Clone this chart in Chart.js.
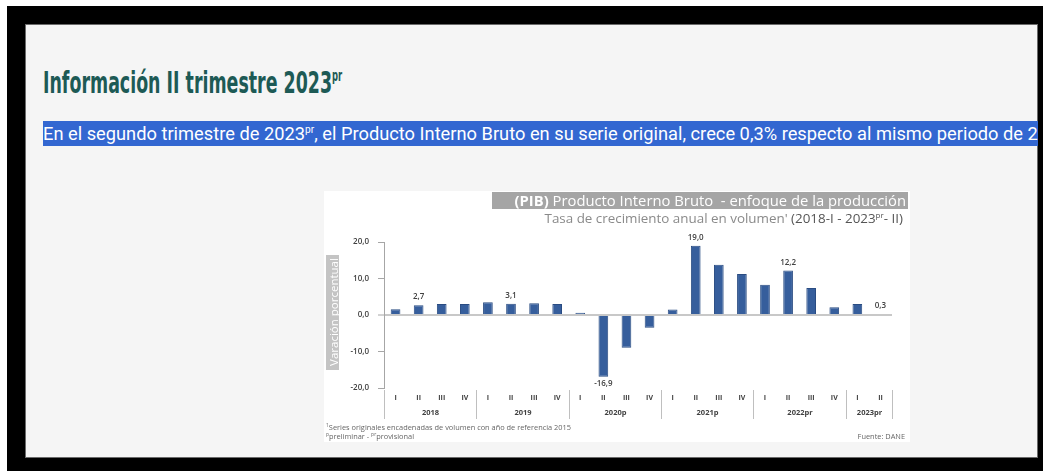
<!DOCTYPE html>
<html>
<head>
<meta charset="utf-8">
<script src="https://cdn.jsdelivr.net/npm/chart.js@4.4.0/dist/chart.umd.min.js"></script>
<style>
body { margin: 0; width: 1043px; height: 471px; overflow: hidden; position: relative; background: #fff; font-family: Roboto, sans-serif; }
#frame { position: absolute; left: 7px; top: 6px; width: 1036px; height: 465px; background: #000; }
#page { position: absolute; left: 25px; top: 24px; width: 1011px; height: 432px; background: #f5f5f5; border: 1px solid #6b6b6b; }
#heading { position: absolute; left: 43px; top: 67px; margin: 0; white-space: nowrap; transform-origin: 0 0;
  font-family: "Liberation Sans Narrow", "DejaVu Sans Condensed", sans-serif; font-weight: bold; font-size: 31px; line-height: 31px; color: #1d5a55; }
#heading sup { font-size: 15px; line-height: 0; vertical-align: 12px; }
#parwrap { position: absolute; left: 43px; top: 121px; width: 995px; height: 25px; overflow: hidden; }
#par { white-space: nowrap; transform-origin: 0 0; font-size: 18px; line-height: 25px; color: #fff; background: #3367d1; display: inline-block; padding-right: 40px; }
#par sup { font-size: 10px; line-height: 0; vertical-align: 7px; }
#box { position: absolute; left: 324px; top: 191px; width: 586px; height: 251px; background: #fff; font-family: "Open Sans", sans-serif; }
#box canvas { position: absolute; left: 0; top: 0; }
#banner { position: absolute; left: 168px; top: 1px; width: 416px; height: 17px; background: #a5a5a5; color: #fff; font-size: 14.8px; line-height: 17px; text-align: right; white-space: nowrap; }
#banner span { padding-right: 2px; }
#sub { position: absolute; right: 7px; top: 19px; color: #8a8a8a; font-size: 13.4px; line-height: 17px; white-space: nowrap; }
#sub b { font-weight: normal; color: #555; }
#sub sup { font-size: 8px; line-height: 0; }
#ytitle { position: absolute; left: 2px; top: 64px; width: 13px; height: 115px; background: #c4c4c4; }
#ytitle div { position: absolute; left: 6.5px; top: 57px; transform: translate(-50%, -50%) rotate(-90deg); color: #fff; font-size: 11.5px; white-space: nowrap; }
.fn { position: absolute; font-size: 7.4px; color: #666; white-space: nowrap; line-height: 8px; }
.fn sup { font-size: 5px; line-height: 0; }
</style>
</head>
<body>
<div id="frame"></div>
<div id="page"></div>
<h2 id="heading"><span id="hmain">Información II trimestre 2023</span><sup>pr</sup></h2>
<div id="parwrap"><span id="par"><span id="pmain">En el segundo trimestre de 2023</span><sup>pr</sup>, el Producto Interno Bruto en su serie original, crece 0,3% respecto al mismo periodo de 2022<sup>pr</sup>.</span></div>
<div id="box">
  <canvas id="chart" width="586" height="251"></canvas>
  <div id="banner"><span><b>(PIB)</b> Producto Interno Bruto &nbsp;- enfoque de la producción</span></div>
  <div id="sub">Tasa de crecimiento anual en volumen' <b>(2018-I - 2023<sup>pr</sup>- II)</b></div>
  <div id="ytitle"><div>Varación porcentual</div></div>
  <div class="fn" style="left:2px;top:232px"><sup>1</sup>Series originales encadenadas de volumen con año de referencia 2015</div>
  <div class="fn" style="left:2px;top:241px"><sup>p</sup>preliminar - <sup>pr</sup>provisional</div>
  <div class="fn" style="right:5px;top:241px">Fuente: DANE</div>
</div>
<script>
// quarters and annual growth (%)
const quarters = ['I', 'II', 'III', 'IV', 'I', 'II', 'III', 'IV', 'I', 'II', 'III', 'IV',
                  'I', 'II', 'III', 'IV', 'I', 'II', 'III', 'IV', 'I', 'II'];
const growth = [1.6, 2.7, 3.0, 3.0, 3.5, 3.1, 3.2, 3.0, 0.6, -16.9, -9.0, -3.5,
                1.5, 19.0, 13.8, 11.2, 8.3, 12.2, 7.4, 2.1, 3.0, 0.3];
const years = ['2018', '2019', '2020p', '2021p', '2022pr', '2023pr'];
const quartersPerYear = [4, 4, 4, 4, 4, 2];
const labelledBars = [1, 5, 9, 13, 17, 21]; // only these bars carry a value label
const yTicks = [-20, -10, 0, 10, 20];

// squeeze the html text so that a part of it gets the width it has in the screenshot
function fitWidth(el, part, target) {
    const w = part.getBoundingClientRect().width;
    el.style.transform = 'scaleX(' + (target / w) + ')';
}
fitWidth(document.getElementById('heading'), document.getElementById('hmain'), 289);
fitWidth(document.getElementById('par'), document.getElementById('pmain'), 262);

const fmt = v => v.toFixed(1).replace('.', ',');

const yearPlugin = {
    id: 'years',
    afterDraw(chart) {
        const ctx = chart.ctx;
        const x = chart.scales.x;
        const half = (x.getPixelForValue(1) - x.getPixelForValue(0)) / 2;
        const bottom = chart.chartArea.bottom;
        ctx.save();
        ctx.strokeStyle = '#bfbfbf';
        ctx.lineWidth = 1;
        ctx.fillStyle = '#404040';
        ctx.font = 'bold 7.5px "Open Sans"';
        ctx.textAlign = 'center';
        ctx.textBaseline = 'middle';
        let start = 0;
        years.forEach((yr, i) => {
            const end = start + quartersPerYear[i] - 1;
            const left = Math.round(x.getPixelForValue(start) - half) + 0.5;
            const right = Math.round(x.getPixelForValue(end) + half) + 0.5;
            ctx.beginPath();
            ctx.moveTo(left, bottom + 2);
            ctx.lineTo(left, bottom + 31);
            if (i === years.length - 1) {
                ctx.moveTo(right, bottom + 2);
                ctx.lineTo(right, bottom + 31);
            }
            ctx.stroke();
            ctx.fillText(yr, (left + right) / 2, bottom + 25);
            start = end + 1;
        });
        // value labels
        const meta = chart.getDatasetMeta(0);
        ctx.font = '600 8px "Open Sans"';
        labelledBars.forEach(i => {
            const bar = meta.data[i];
            const v = growth[i];
            const y = v >= 0 ? bar.y - 8 : bar.y + 7;
            ctx.fillText(fmt(v), bar.x, y);
        });
        ctx.restore();
    }
};

const ctx = document.getElementById('chart').getContext('2d');
const chart = new Chart(ctx, {
    type: 'bar',
    data: {
        labels: quarters,
        datasets: [{
            data: growth,
            backgroundColor: '#365e9c',
            borderColor: '#2a4c82',
            borderWidth: 1,
            barPercentage: 0.42,
            categoryPercentage: 1.0
        }]
    },
    options: {
        responsive: false,
        animation: false,
        layout: { padding: { left: 0, right: 18, top: 51, bottom: 0 } },
        plugins: { legend: { display: false }, tooltip: { enabled: false } },
        scales: {
            x: {
                grid: { display: false, drawTicks: false },
                border: { display: false },
                ticks: { autoSkip: false, maxRotation: 0, padding: 6, color: '#404040',
                         font: { family: 'Open Sans', size: 7, weight: 'bold' } },
                afterFit: s => { s.height = 54; }
            },
            y: {
                min: -20,
                max: 20,
                afterBuildTicks: s => { s.ticks = yTicks.map(v => ({ value: v })); },
                ticks: { padding: 9, color: '#404040', callback: v => fmt(v),
                         font: { family: 'Open Sans', size: 8, weight: '600' } },
                grid: {
                    color: c => c.tick && c.tick.value === 0 ? '#c8c8c8' : 'rgba(0,0,0,0)',
                    lineWidth: c => c.tick && c.tick.value === 0 ? 2 : 1,
                    tickColor: '#a6a6a6',
                    tickWidth: 1,
                    tickLength: 6
                },
                border: { color: '#a6a6a6' },
                afterFit: s => { s.width = 60; }
            }
        }
    },
    plugins: [yearPlugin]
});
</script>
</body>
</html>
